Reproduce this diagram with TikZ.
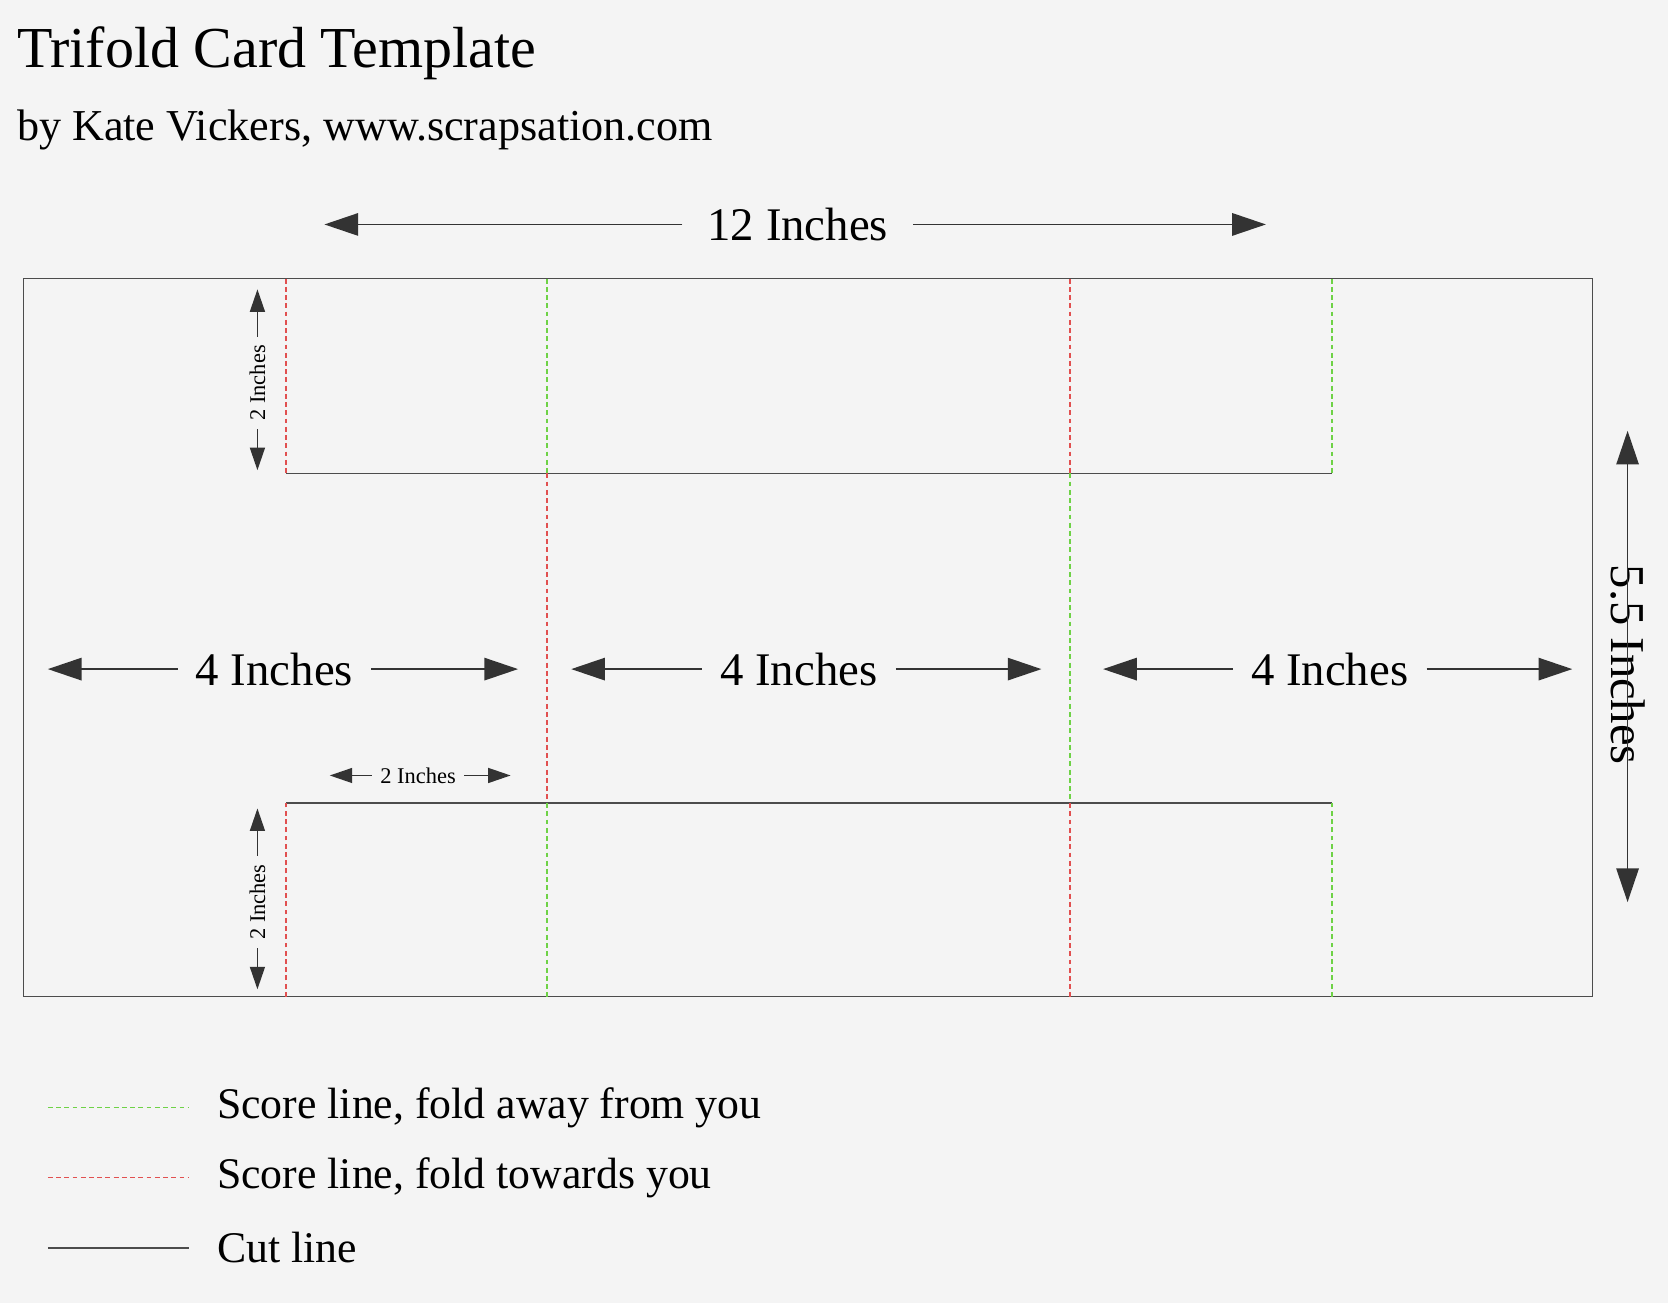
\documentclass[tikz,border=0pt]{standalone}
\usepackage{fontspec}
\setmainfont{Liberation Serif}
\usetikzlibrary{arrows.meta,positioning}
\definecolor{bg}{RGB}{244,244,244}
\definecolor{scoregreen}{RGB}{110,210,70}
\definecolor{scorered}{RGB}{225,80,80}
\begin{document}
\begin{tikzpicture}[x=0.01cm,y=-0.01cm,>={Triangle[length=9pt,width=6pt]},semithick]
\tikzstyle{cut}=[draw=black!70,thin]
\tikzstyle{away}=[draw=scoregreen,thin,dash pattern=on 1.3pt off 0.9pt]
\tikzstyle{towards}=[draw=scorered,thin,dash pattern=on 1.3pt off 0.9pt]
\tikzstyle{dim}=[->,draw=black!80,thin]
\tikzstyle{small dim}=[->,draw=black!80,thin,>={Triangle[length=6pt,width=4pt]}]
\tikzstyle{label}=[font=\fontsize{12.5}{14}\selectfont,inner sep=0pt]
\tikzstyle{tiny}=[font=\fontsize{6}{7}\selectfont,inner sep=2pt]
\fill[bg] (0,0) rectangle (1568,1225);
\useasboundingbox (0,0) rectangle (1568,1225);

\node[anchor=west,inner sep=0pt,font=\fontsize{15.5}{18}\selectfont] (title) at (15,50) {Trifold Card Template};
\node[anchor=west,inner sep=0pt,font=\fontsize{11.8}{14}\selectfont] (by) at (15,122) {by Kate Vickers, www.scrapsation.com};

% card outline and cut lines
\draw[cut] (22,262) rectangle (1497,937);
\coordinate (tl) at (269,445); \coordinate (tr) at (1252,445);
\coordinate (bl) at (269,755); \coordinate (br) at (1252,755);
\draw[cut] (tl) -- (tr);
\draw[cut] (bl) -- (br);

% score lines
\draw[towards] (269,262) -- (tl);
\draw[towards] (269,937) -- (bl);
\draw[away] (1252,262) -- (tr);
\draw[away] (1252,937) -- (br);
\draw[away] (514,262) -- (514,445);
\draw[towards] (514,445) -- (514,755);
\draw[away] (514,755) -- (514,937);
\draw[towards] (1006,262) -- (1006,445);
\draw[away] (1006,445) -- (1006,755);
\draw[towards] (1006,755) -- (1006,937);

% dimensions
\node[label,minimum width=2.15cm] (w) at (750,211) {12 Inches};
\draw[dim] (w.west) -- (305,211);
\draw[dim] (w.east) -- (1190,211);
\foreach \c/\l/\r [count=\i] in {258/45/487, 751/537/979, 1250/1037/1478}{
  \node[label,minimum width=1.8cm] (p\i) at (\c,629) {4 Inches};
  \draw[dim] (p\i.west) -- (\l,629);
  \draw[dim] (p\i.east) -- (\r,629);
}
\node[label,rotate=-90,minimum width=2.2cm,font=\fontsize{13}{15}\selectfont] (h) at (1530,625) {5.5 Inches};
\draw[dim] (h.east) -- (1530,405);
\draw[dim] (h.west) -- (1530,848);
\node[tiny,rotate=90] (t1) at (242,360) {2 Inches};
\draw[small dim] (t1.east) -- (242,272);
\draw[small dim] (t1.west) -- (242,442);
\node[tiny,rotate=90] (t2) at (242,848) {2 Inches};
\draw[small dim] (t2.east) -- (242,760);
\draw[small dim] (t2.west) -- (242,930);
\node[tiny] (t3) at (393,729) {2 Inches};
\draw[small dim] (t3.west) -- (310,729);
\draw[small dim] (t3.east) -- (480,729);

% legend
\foreach \y/\s/\t in {1041/away/{Score line, fold away from you}, 1107/towards/{Score line, fold towards you}, 1173/cut/{Cut line}}{
  \draw[\s] (45,\y) -- (178,\y);
  \node[font=\fontsize{11.7}{14}\selectfont,inner sep=0pt,anchor=west] at (203,\y) {\t};
}
\end{tikzpicture}
\end{document}
